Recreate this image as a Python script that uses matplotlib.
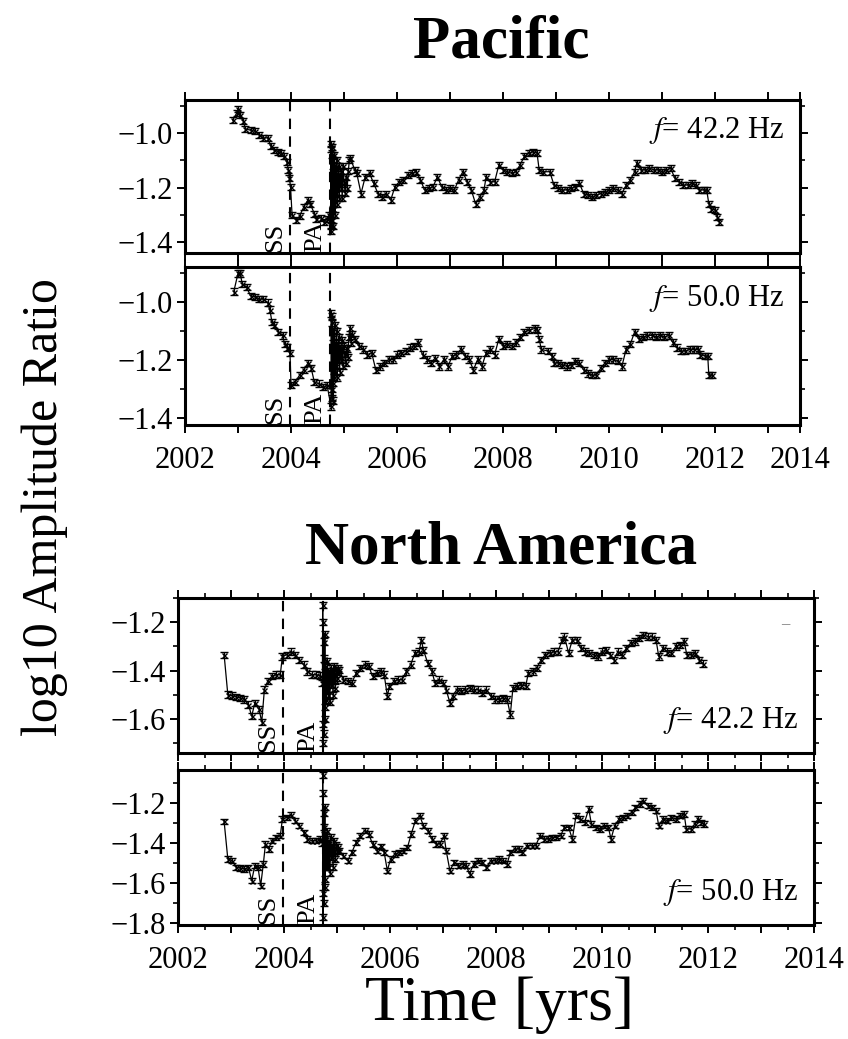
import matplotlib
matplotlib.use("Agg")
import matplotlib.pyplot as plt
import numpy as np

plt.rcParams['font.family'] = ['Liberation Serif', 'DejaVu Serif']
plt.rcParams['mathtext.fontset'] = 'stix'

# ---------------- data ----------------
event_times = [2003.98, 2004.74]       # SS (San Simeon), PA (Parkfield)
event_labels = ['SS', 'PA']

pac42_t = [2002.90, 2002.98, 2003.00, 2003.04, 2003.10, 2003.14, 2003.24, 2003.32, 2003.40, 2003.48,
           2003.56, 2003.62, 2003.68, 2003.76, 2003.82, 2003.86, 2003.92, 2003.95, 2003.97, 2003.99,
           2004.02, 2004.10, 2004.16, 2004.24, 2004.32, 2004.36, 2004.44, 2004.48, 2004.56, 2004.62,
           2004.68, 2004.72,
           2004.745, 2004.750, 2004.755, 2004.760, 2004.765, 2004.770, 2004.775, 2004.780, 2004.785,
           2004.790, 2004.795, 2004.800, 2004.805, 2004.810, 2004.815, 2004.820, 2004.830, 2004.840,
           2004.850, 2004.860, 2004.870, 2004.880, 2004.890, 2004.900, 2004.910, 2004.920, 2004.935,
           2004.950, 2004.965, 2004.980, 2005.000, 2005.020, 2005.040, 2005.060, 2005.080, 2005.100,
           2005.12, 2005.20, 2005.24, 2005.32, 2005.40, 2005.48, 2005.56, 2005.64, 2005.72, 2005.80,
           2005.88, 2005.96, 2006.04, 2006.12, 2006.20, 2006.28, 2006.36, 2006.44, 2006.52, 2006.60,
           2006.68, 2006.76, 2006.84, 2006.92, 2007.00, 2007.08, 2007.16, 2007.24, 2007.32, 2007.40,
           2007.48, 2007.56, 2007.64, 2007.68, 2007.76, 2007.84, 2007.92, 2008.00, 2008.08, 2008.16,
           2008.24, 2008.32, 2008.40, 2008.48, 2008.56, 2008.64, 2008.68, 2008.76, 2008.88, 2008.96,
           2009.04, 2009.12, 2009.20, 2009.28, 2009.36, 2009.44, 2009.52, 2009.60, 2009.68, 2009.76,
           2009.84, 2009.92, 2010.00, 2010.08, 2010.16, 2010.24, 2010.32, 2010.40, 2010.48, 2010.52,
           2010.60, 2010.68, 2010.76, 2010.84, 2010.92, 2011.00, 2011.08, 2011.16, 2011.24, 2011.32,
           2011.40, 2011.48, 2011.56, 2011.64, 2011.70, 2011.78, 2011.84, 2011.88, 2011.92, 2012.00,
           2012.04, 2012.08]
pac42_v = [-0.953, -0.925, -0.911, -0.935, -0.955, -0.985, -0.990, -0.994, -1.006, -1.018,
           -1.018, -1.049, -1.062, -1.068, -1.074, -1.086, -1.105, -1.135, -1.166, -1.197,
           -1.302, -1.320, -1.305, -1.271, -1.246, -1.259, -1.296, -1.314, -1.310, -1.326,
           -1.314, -1.300,
           -1.36, -1.04, -1.34, -1.06, -1.32, -1.08, -1.30, -1.05, -1.28,
           -1.10, -1.34, -1.12, -1.26, -1.08, -1.24, -1.14, -1.30, -1.12,
           -1.22, -1.10, -1.26, -1.15, -1.20, -1.12, -1.24, -1.16, -1.20,
           -1.14, -1.24, -1.12, -1.18, -1.22, -1.16, -1.20, -1.14, -1.10,
           -1.092, -1.135, -1.148, -1.222, -1.160, -1.148, -1.185, -1.222, -1.234, -1.222,
           -1.246, -1.197, -1.179, -1.172, -1.154, -1.148, -1.142, -1.172, -1.209, -1.203,
           -1.197, -1.160, -1.197, -1.209, -1.203, -1.209, -1.172, -1.142, -1.179, -1.209,
           -1.259, -1.234, -1.209, -1.160, -1.179, -1.179, -1.117, -1.135, -1.142, -1.148,
           -1.142, -1.117, -1.086, -1.074, -1.068, -1.074, -1.135, -1.142, -1.142, -1.191,
           -1.203, -1.209, -1.209, -1.203, -1.197, -1.185, -1.222, -1.228, -1.234, -1.228,
           -1.222, -1.216, -1.209, -1.203, -1.209, -1.222, -1.191, -1.172, -1.142, -1.111,
           -1.135, -1.135, -1.129, -1.135, -1.135, -1.142, -1.135, -1.129, -1.166, -1.179,
           -1.191, -1.191, -1.185, -1.191, -1.209, -1.209, -1.209, -1.259, -1.277, -1.283,
           -1.308, -1.326]

pac50_t = [2002.92, 2003.00, 2003.04, 2003.08, 2003.16, 2003.24, 2003.32, 2003.40, 2003.48, 2003.56,
           2003.60, 2003.64, 2003.68, 2003.76, 2003.84, 2003.88, 2003.92, 2003.98, 2004.00, 2004.08,
           2004.16, 2004.24, 2004.32, 2004.38, 2004.44, 2004.52, 2004.60, 2004.68,
           2004.755, 2004.760, 2004.765, 2004.770, 2004.775, 2004.780, 2004.785, 2004.790, 2004.795,
           2004.800, 2004.810, 2004.820, 2004.830, 2004.840, 2004.850, 2004.860, 2004.870, 2004.880,
           2004.890, 2004.900, 2004.915, 2004.930, 2004.945, 2004.960, 2004.975, 2004.990, 2005.010,
           2005.030, 2005.050, 2005.070, 2005.090, 2005.110, 2005.130, 2005.150,
           2005.20, 2005.28, 2005.36, 2005.44, 2005.52, 2005.60, 2005.68, 2005.76, 2005.84, 2005.92,
           2006.00, 2006.08, 2006.16, 2006.24, 2006.32, 2006.40, 2006.48, 2006.56, 2006.64, 2006.72,
           2006.80, 2006.88, 2006.96, 2007.04, 2007.12, 2007.20, 2007.28, 2007.36, 2007.44, 2007.52,
           2007.60, 2007.68, 2007.76, 2007.84, 2007.92, 2008.00, 2008.08, 2008.16, 2008.24, 2008.32,
           2008.40, 2008.48, 2008.60, 2008.64, 2008.68, 2008.72, 2008.84, 2008.92, 2008.96, 2009.04,
           2009.12, 2009.20, 2009.28, 2009.36, 2009.44, 2009.52, 2009.60, 2009.68, 2009.76, 2009.84,
           2009.92, 2010.00, 2010.08, 2010.16, 2010.24, 2010.32, 2010.40, 2010.48, 2010.56, 2010.64,
           2010.72, 2010.80, 2010.88, 2010.96, 2011.04, 2011.12, 2011.20, 2011.28, 2011.36, 2011.44,
           2011.52, 2011.60, 2011.68, 2011.72, 2011.80, 2011.86, 2011.88, 2011.94]
pac50_v = [-0.964, -0.901, -0.901, -0.937, -0.949, -0.979, -0.982, -0.990, -0.990, -1.002,
           -1.026, -1.068, -1.080, -1.103, -1.115, -1.145, -1.157, -1.175, -1.287, -1.276,
           -1.252, -1.234, -1.210, -1.228, -1.276, -1.281, -1.293, -1.287,
           -1.36, -1.04, -1.33, -1.07, -1.30, -1.05, -1.28, -1.10, -1.34,
           -1.12, -1.26, -1.08, -1.24, -1.14, -1.22, -1.10, -1.26, -1.15,
           -1.20, -1.12, -1.24, -1.16, -1.20, -1.13, -1.22, -1.15, -1.18,
           -1.21, -1.16, -1.19, -1.12, -1.09, -1.14, -1.11,
           -1.127, -1.151, -1.163, -1.181, -1.175, -1.234, -1.222, -1.210, -1.198, -1.198,
           -1.181, -1.175, -1.169, -1.157, -1.151, -1.139, -1.181, -1.198, -1.210, -1.192,
           -1.222, -1.198, -1.222, -1.186, -1.181, -1.163, -1.186, -1.198, -1.234, -1.198,
           -1.222, -1.175, -1.163, -1.181, -1.127, -1.151, -1.145, -1.151, -1.139, -1.121,
           -1.103, -1.097, -1.091, -1.097, -1.127, -1.163, -1.169, -1.186, -1.210, -1.210,
           -1.216, -1.222, -1.216, -1.204, -1.210, -1.234, -1.246, -1.252, -1.252, -1.228,
           -1.210, -1.198, -1.198, -1.204, -1.222, -1.163, -1.145, -1.103, -1.127, -1.121,
           -1.115, -1.115, -1.121, -1.115, -1.121, -1.115, -1.139, -1.157, -1.169, -1.169,
           -1.163, -1.163, -1.163, -1.181, -1.186, -1.186, -1.252, -1.252]

na42_t = [2002.87, 2002.94, 2003.02, 2003.10, 2003.17, 2003.25, 2003.33, 2003.39, 2003.45, 2003.53,
          2003.58, 2003.63, 2003.69, 2003.77, 2003.85, 2003.93, 2003.97, 2004.05, 2004.13, 2004.21,
          2004.29, 2004.37, 2004.44, 2004.52, 2004.60, 2004.67,
          2004.725, 2004.730, 2004.735, 2004.740, 2004.745, 2004.750, 2004.755, 2004.760, 2004.765,
          2004.770, 2004.775, 2004.780, 2004.790, 2004.800, 2004.810, 2004.820, 2004.835, 2004.850,
          2004.865, 2004.880, 2004.895, 2004.910, 2004.925, 2004.940, 2004.955, 2004.970, 2004.985,
          2005.000, 2005.020,
          2005.04, 2005.12, 2005.20, 2005.28, 2005.36, 2005.44, 2005.52, 2005.60, 2005.67, 2005.75,
          2005.83, 2005.89, 2005.95, 2005.99, 2006.07, 2006.15, 2006.23, 2006.31, 2006.39, 2006.47,
          2006.55, 2006.59, 2006.63, 2006.71, 2006.79, 2006.85, 2006.92, 2007.00, 2007.06, 2007.13,
          2007.18, 2007.26, 2007.34, 2007.42, 2007.50, 2007.58, 2007.66, 2007.74, 2007.82, 2007.90,
          2007.98, 2008.06, 2008.13, 2008.21, 2008.27, 2008.32, 2008.40, 2008.48, 2008.56, 2008.61,
          2008.69, 2008.77, 2008.85, 2008.93, 2009.01, 2009.09, 2009.17, 2009.25, 2009.29, 2009.37,
          2009.44, 2009.52, 2009.60, 2009.68, 2009.76, 2009.84, 2009.92, 2010.00, 2010.08, 2010.16,
          2010.22, 2010.30, 2010.38, 2010.46, 2010.54, 2010.62, 2010.70, 2010.78, 2010.86, 2010.94,
          2011.02, 2011.07, 2011.15, 2011.23, 2011.31, 2011.39, 2011.47, 2011.55, 2011.60, 2011.68,
          2011.76, 2011.83, 2011.90]
na42_v = [-1.334, -1.499, -1.503, -1.508, -1.512, -1.519, -1.540, -1.588, -1.533, -1.560,
          -1.612, -1.478, -1.444, -1.423, -1.416, -1.416, -1.341, -1.334, -1.321, -1.334,
          -1.355, -1.375, -1.403, -1.416, -1.416, -1.420,
          -1.45, -1.13, -1.70, -1.20, -1.62, -1.28, -1.66, -1.35, -1.55,
          -1.25, -1.60, -1.38, -1.52, -1.40, -1.48, -1.36, -1.50, -1.42,
          -1.53, -1.39, -1.46, -1.41, -1.50, -1.38, -1.44, -1.47, -1.40,
          -1.43, -1.39,
          -1.396, -1.437, -1.444, -1.451, -1.410, -1.389, -1.375, -1.382, -1.423, -1.410,
          -1.403, -1.416, -1.505, -1.464, -1.444, -1.437, -1.437, -1.403, -1.375, -1.327,
          -1.321, -1.273, -1.314, -1.368, -1.403, -1.451, -1.437, -1.451, -1.478, -1.533,
          -1.505, -1.478, -1.485, -1.478, -1.471, -1.478, -1.478, -1.492, -1.478, -1.505,
          -1.519, -1.519, -1.512, -1.519, -1.581, -1.471, -1.464, -1.458, -1.464, -1.410,
          -1.403, -1.389, -1.355, -1.334, -1.327, -1.321, -1.321, -1.273, -1.259, -1.327,
          -1.273, -1.273, -1.307, -1.321, -1.327, -1.334, -1.341, -1.321, -1.314, -1.334,
          -1.355, -1.321, -1.334, -1.307, -1.286, -1.279, -1.266, -1.252, -1.259, -1.259,
          -1.273, -1.341, -1.307, -1.321, -1.327, -1.300, -1.293, -1.279, -1.334, -1.334,
          -1.327, -1.355, -1.371]

na50_t = [2002.87, 2002.94, 2003.02, 2003.10, 2003.17, 2003.25, 2003.33, 2003.39, 2003.45, 2003.51,
          2003.56, 2003.61, 2003.65, 2003.71, 2003.77, 2003.85, 2003.93, 2003.97, 2004.05, 2004.13,
          2004.21, 2004.29, 2004.37, 2004.44, 2004.52, 2004.60, 2004.67,
          2004.725, 2004.730, 2004.735, 2004.740, 2004.745, 2004.750, 2004.755, 2004.760, 2004.765,
          2004.770, 2004.775, 2004.780, 2004.790, 2004.800, 2004.810, 2004.820, 2004.835, 2004.850,
          2004.865, 2004.880, 2004.895, 2004.910, 2004.925, 2004.940, 2004.955, 2004.970, 2004.985,
          2005.000, 2005.020,
          2005.04, 2005.12, 2005.20, 2005.28, 2005.36, 2005.44, 2005.52, 2005.60, 2005.67, 2005.75,
          2005.83, 2005.89, 2005.95, 2006.01, 2006.09, 2006.17, 2006.25, 2006.33, 2006.40, 2006.48,
          2006.56, 2006.63, 2006.71, 2006.79, 2006.87, 2006.94, 2007.02, 2007.06, 2007.13, 2007.21,
          2007.29, 2007.37, 2007.44, 2007.50, 2007.58, 2007.66, 2007.74, 2007.82, 2007.90, 2007.98,
          2008.06, 2008.13, 2008.21, 2008.27, 2008.35, 2008.43, 2008.49, 2008.59, 2008.67, 2008.75,
          2008.83, 2008.90, 2008.98, 2009.06, 2009.14, 2009.22, 2009.29, 2009.37, 2009.44, 2009.51,
          2009.59, 2009.67, 2009.75, 2009.80, 2009.88, 2009.96, 2010.04, 2010.12, 2010.17, 2010.24,
          2010.32, 2010.40, 2010.48, 2010.56, 2010.63, 2010.71, 2010.78, 2010.86, 2010.94, 2011.02,
          2011.07, 2011.15, 2011.23, 2011.31, 2011.39, 2011.47, 2011.55, 2011.59, 2011.67, 2011.75,
          2011.81, 2011.87, 2011.92]
na50_v = [-1.292, -1.480, -1.488, -1.522, -1.525, -1.530, -1.522, -1.588, -1.513, -1.522,
          -1.613, -1.505, -1.405, -1.430, -1.388, -1.372, -1.363, -1.280, -1.272, -1.258,
          -1.288, -1.313, -1.347, -1.380, -1.388, -1.388, -1.380,
          -1.40, -1.06, -1.77, -1.15, -1.65, -1.25, -1.70, -1.32, -1.58,
          -1.22, -1.62, -1.36, -1.52, -1.38, -1.50, -1.34, -1.52, -1.40,
          -1.55, -1.37, -1.47, -1.42, -1.52, -1.39, -1.45, -1.48, -1.41,
          -1.44, -1.42,
          -1.438, -1.463, -1.488, -1.447, -1.397, -1.363, -1.338, -1.355, -1.405, -1.438,
          -1.417, -1.447, -1.538, -1.480, -1.455, -1.447, -1.438, -1.422, -1.355, -1.288,
          -1.263, -1.313, -1.338, -1.380, -1.405, -1.405, -1.363, -1.438, -1.538, -1.497,
          -1.513, -1.505, -1.513, -1.555, -1.505, -1.488, -1.497, -1.522, -1.488, -1.488,
          -1.480, -1.488, -1.505, -1.447, -1.430, -1.430, -1.447, -1.413, -1.413, -1.413,
          -1.363, -1.380, -1.380, -1.372, -1.372, -1.363, -1.322, -1.322, -1.380, -1.263,
          -1.280, -1.297, -1.230, -1.305, -1.322, -1.330, -1.313, -1.322, -1.380, -1.313,
          -1.280, -1.272, -1.263, -1.247, -1.222, -1.205, -1.188, -1.213, -1.222, -1.238,
          -1.313, -1.280, -1.288, -1.272, -1.280, -1.263, -1.255, -1.330, -1.330, -1.305,
          -1.280, -1.297, -1.305]

err_pac = 0.011
err_na = 0.013

panel_freqs = ['42.2', '50.0', '42.2', '50.0']

pac_xlim = (2002.0, 2013.6)
na_xlim = (2002.0, 2014.0)
pac_xticks = [2002, 2003, 2004, 2005, 2006, 2007, 2008, 2009, 2010, 2011, 2012, 2013, 2013.6]
pac_xticklabels = ['2002', '', '2004', '', '2006', '', '2008', '', '2010', '', '2012', '', '2014']
na_xticks = [2002, 2003, 2004, 2005, 2006, 2007, 2008, 2009, 2010, 2011, 2012, 2013, 2014]
na_xticklabels = ['2002', '', '2004', '', '2006', '', '2008', '', '2010', '', '2012', '', '2014']

ylims = [(-1.44, -0.879), (-1.424, -0.879), (-1.74, -1.10), (-1.81, -1.035)]
yticks_major = [[-1.0, -1.2, -1.4], [-1.0, -1.2, -1.4], [-1.2, -1.4, -1.6], [-1.2, -1.4, -1.6, -1.8]]
yticks_minor = [[-0.9, -1.1, -1.3], [-0.9, -1.1, -1.3], [-1.1, -1.3, -1.5, -1.7], [-1.1, -1.3, -1.5, -1.7]]

# ---------------- figure ----------------
W, H = 848, 1039
fig = plt.figure(figsize=(W / 100, H / 100), dpi=100)

def rect(l, r, t, b):
    return [l / W, 1 - b / H, (r - l) / W, (b - t) / H]

axes = [fig.add_axes(rect(185, 800, 100, 253)),
        fig.add_axes(rect(185, 800, 267, 425)),
        fig.add_axes(rect(178, 814, 598, 753)),
        fig.add_axes(rect(178, 814, 770, 925))]

series = [(pac42_t, pac42_v, err_pac), (pac50_t, pac50_v, err_pac),
          (na42_t, na42_v, err_na), (na50_t, na50_v, err_na)]

for i, ax in enumerate(axes):
    t, v, e = series[i]
    ax.errorbar(t, v, yerr=e, fmt='-', color='k', lw=0.9, marker='x', ms=3.6, mew=1.0,
                ecolor='k', elinewidth=0.9, capsize=3.0, capthick=1.0, zorder=3)
    ax.set_ylim(*ylims[i])
    pac = i < 2
    ax.set_xlim(*(pac_xlim if pac else na_xlim))
    for et, el in zip(event_times, event_labels):
        ax.axvline(et, color='k', lw=1.5, ls=(0, (5, 3.5)), zorder=2)
        ax.annotate(el, xy=(et, ylims[i][0]), xycoords='data', xytext=(-3, 1),
                    textcoords='offset points', rotation=90, ha='right', va='bottom',
                    fontsize=19)
    if pac:
        ax.set_xticks(pac_xticks)
        ax.set_xticklabels(pac_xticklabels if i == 1 else [''] * len(pac_xticks))
    else:
        ax.set_xticks(na_xticks)
        ax.set_xticklabels(na_xticklabels if i == 3 else [''] * len(na_xticks))
        ax.set_xticks([y + 0.5 for y in na_xticks[:-1]], minor=True)
    ax.set_yticks(yticks_major[i])
    ax.set_yticklabels(['\u2212%.1f' % abs(y) for y in yticks_major[i]])
    ax.set_yticks(yticks_minor[i], minor=True)
    ax.tick_params(which='major', direction='out', length=6, width=1.4, labelsize=22,
                   top=True, right=True)
    ax.tick_params(axis='x', which='major', pad=9)
    ax.tick_params(axis='y', which='major', pad=3)
    ax.tick_params(which='minor', direction='out', length=3.5, width=1.2, top=True, right=True)
    for s in ax.spines.values():
        s.set_linewidth(2.2)
    if pac:
        ax.text(0.975, 0.80, r'$f$= ' + panel_freqs[i] + ' Hz', transform=ax.transAxes,
                ha='right', va='center', fontsize=22)
    else:
        ax.text(0.975, 0.21, r'$f$= ' + panel_freqs[i] + ' Hz', transform=ax.transAxes,
                ha='right', va='center', fontsize=22)

# small stray dash in the upper-right of the North America 42.2 Hz panel
axes[2].text(0.955, 0.83, '\u2013', transform=axes[2].transAxes, ha='center', va='center',
             fontsize=12, color='#777777')

fig.text(501 / W, 1 - 42 / H, 'Pacific', ha='center', va='center', fontsize=44, fontweight='bold')
fig.text(501 / W, 1 - 548 / H, 'North America', ha='center', va='center', fontsize=44,
         fontweight='bold')
fig.text(45 / W, 1 - 507 / H, 'log10 Amplitude Ratio', rotation=90, ha='center', va='center',
         fontsize=36)
fig.text(500 / W, 1 - 1005 / H, 'Time [yrs]', ha='center', va='center', fontsize=46)

fig.savefig('out.png', dpi=100)
